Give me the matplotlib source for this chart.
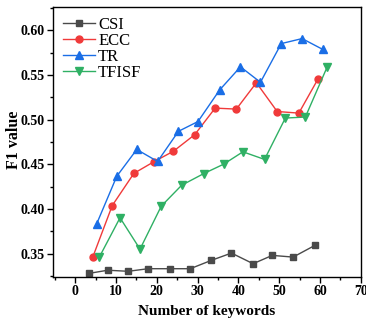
import matplotlib
matplotlib.use('Agg')
import matplotlib.pyplot as plt
from matplotlib.ticker import MultipleLocator

plt.rcParams['font.family'] = 'Liberation Serif'

# data
csi_x = [3.3, 8.0, 13.0, 17.9, 23.3, 28.2, 33.4, 38.3, 43.6, 48.3, 53.4, 58.7]
csi_y = [0.328, 0.3316, 0.3304, 0.3333, 0.3333, 0.3333, 0.3427, 0.3508, 0.3389, 0.3482, 0.3463, 0.3593]
ecc_x = [4.3, 9.1, 14.4, 19.3, 24.1, 29.3, 34.3, 39.5, 44.4, 49.5, 54.8, 59.5]
ecc_y = [0.346, 0.404, 0.440, 0.453, 0.4648, 0.4833, 0.513, 0.5119, 0.5414, 0.5092, 0.5074, 0.5456]
tr_x = [5.3, 10.2, 15.1, 20.2, 25.3, 30.1, 35.4, 40.5, 45.4, 50.5, 55.6, 60.7]
tr_y = [0.3837, 0.4367, 0.4667, 0.4533, 0.487, 0.498, 0.5333, 0.5592, 0.5419, 0.5852, 0.5908, 0.5786]
tfisf_x = [5.9, 11.0, 15.9, 21.1, 26.1, 31.5, 36.4, 41.1, 46.4, 51.5, 56.4, 61.7]
tfisf_y = [0.346, 0.3903, 0.3552, 0.4033, 0.4267, 0.4397, 0.4503, 0.4641, 0.4556, 0.5019, 0.503, 0.5586]
yticks = [0.35, 0.40, 0.45, 0.50, 0.55, 0.60]

fig = plt.figure(figsize=(3.66, 3.24), dpi=100)
ax = fig.add_axes([0.145, 0.145, 0.841, 0.833])

ax.plot(csi_x, csi_y, color='#4a4a4a', marker='s', ms=4.5, lw=1.0, label='CSI')
ax.plot(ecc_x, ecc_y, color='#f03a3a', marker='o', ms=5, lw=1.0, label='ECC')
ax.plot(tr_x, tr_y, color='#1a6ee6', marker='^', ms=5.5, lw=1.0, label='TR')
ax.plot(tfisf_x, tfisf_y, color='#2fb064', marker='v', ms=5.5, lw=1.0, label='TFISF')

ax.set_xlim(-5.4, 70)
ax.set_ylim(0.324, 0.626)
ax.xaxis.set_major_locator(MultipleLocator(10))
ax.xaxis.set_minor_locator(MultipleLocator(5))
ax.yaxis.set_minor_locator(MultipleLocator(0.025))
ax.set_yticks(yticks)
ax.set_yticklabels(['%.2f' % v for v in yticks])
for lab in ax.get_xticklabels() + ax.get_yticklabels():
    lab.set_fontweight('bold')
ax.tick_params(which='major', direction='out', length=4, width=1, labelsize=10, pad=2)
ax.tick_params(which='minor', direction='out', length=2.5, width=1)
for s in ax.spines.values():
    s.set_linewidth(1.0)

ax.set_xlabel('Number of keywords', fontsize=11, fontweight='bold', labelpad=5)
ax.set_ylabel('F1 value', fontsize=11.5, fontweight='bold')
ax.yaxis.set_label_coords(-0.10, 0.507)

ax.legend(loc='upper left', frameon=False, fontsize=12, handlelength=1.9,
          handletextpad=0.2, labelspacing=0.0, borderaxespad=0.3,
          borderpad=0.3)

fig.savefig('out.png', dpi=100)
